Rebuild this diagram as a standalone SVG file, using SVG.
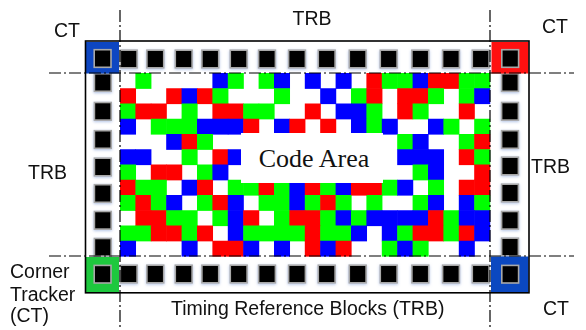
<svg xmlns="http://www.w3.org/2000/svg" xmlns:xlink="http://www.w3.org/1999/xlink" width="586" height="330" viewBox="0 0 586 330">
<defs>
<style>
.lbl{font-family:"Liberation Sans",Arial,sans-serif;font-size:19.5px;fill:#111}
.code{font-family:"Liberation Serif","Times New Roman",serif;font-size:26px;fill:#111}
.cells rect{width:1.04px;height:1.04px}
.r{fill:#ff0000}.g{fill:#00ff00}.b{fill:#0000ff}
.dd{stroke:#000;stroke-width:1.2;fill:none;stroke-dasharray:12 3 2 3}
.tb{fill:#000;stroke:#a8a8a8;stroke-width:1.6}
</style>
<filter id="glow" x="-30%" y="-30%" width="160%" height="160%">
<feDropShadow dx="0" dy="1" stdDeviation="1.4" flood-color="#9fb4e0" flood-opacity="0.8"/>
</filter>
<rect id="blk" class="tb" x="-8.4" y="-8.8" width="16.8" height="17.6"/>
</defs>
<rect width="586" height="330" fill="#fff"/>

<g id="code-area">
<rect x="120" y="73" width="370" height="183" fill="#fff"/>
<g class="cells" transform="translate(120,73) scale(15.4,15.25)">
<g transform="translate(0,0)">
<rect x="1" class="g"/><rect x="6" class="b"/><rect x="7" class="g"/><rect x="9" class="g"/><rect x="10" class="b"/><rect x="12" class="b"/><rect x="14" class="b"/><rect x="16" class="r"/><rect x="17" class="g"/><rect x="18" class="g"/><rect x="19" class="b"/><rect x="20" class="r"/><rect x="21" class="r"/><rect x="22" class="g"/><rect x="23" class="g"/>
</g>
<g transform="translate(0,1)">
<rect x="0" class="r"/><rect x="3" class="r"/><rect x="4" class="b"/><rect x="5" class="r"/><rect x="6" class="g"/><rect x="10" class="g"/><rect x="13" class="b"/><rect x="15" class="g"/><rect x="16" class="r"/><rect x="18" class="r"/><rect x="19" class="r"/><rect x="20" class="g"/><rect x="22" class="g"/><rect x="23" class="b"/>
</g>
<g transform="translate(0,2)">
<rect x="0" class="g"/><rect x="1" class="r"/><rect x="2" class="r"/><rect x="4" class="g"/><rect x="6" class="r"/><rect x="7" class="r"/><rect x="8" class="g"/><rect x="9" class="g"/><rect x="12" class="r"/><rect x="14" class="b"/><rect x="15" class="b"/><rect x="16" class="g"/><rect x="18" class="r"/><rect x="19" class="g"/><rect x="22" class="r"/>
</g>
<g transform="translate(0,3)">
<rect x="0" class="b"/><rect x="2" class="g"/><rect x="3" class="g"/><rect x="4" class="g"/><rect x="5" class="b"/><rect x="6" class="b"/><rect x="7" class="b"/><rect x="8" class="r"/><rect x="10" class="b"/><rect x="11" class="r"/><rect x="13" class="r"/><rect x="15" class="b"/><rect x="16" class="g"/><rect x="17" class="b"/><rect x="20" class="b"/><rect x="21" class="g"/><rect x="23" class="g"/>
</g>
<g transform="translate(0,4)">
<rect x="3" class="b"/><rect x="4" class="r"/><rect x="5" class="g"/><rect x="18" class="g"/><rect x="19" class="b"/><rect x="22" class="g"/><rect x="23" class="r"/>
</g>
<g transform="translate(0,5)">
<rect x="0" class="b"/><rect x="1" class="b"/><rect x="4" class="g"/><rect x="6" class="r"/><rect x="7" class="b"/><rect x="18" class="b"/><rect x="19" class="b"/><rect x="20" class="b"/><rect x="22" class="r"/><rect x="23" class="g"/>
</g>
<g transform="translate(0,6)">
<rect x="0" class="g"/><rect x="2" class="r"/><rect x="3" class="r"/><rect x="5" class="g"/><rect x="6" class="b"/><rect x="19" class="g"/><rect x="20" class="b"/><rect x="23" class="r"/>
</g>
<g transform="translate(0,7)">
<rect x="0" class="r"/><rect x="1" class="g"/><rect x="2" class="g"/><rect x="4" class="b"/><rect x="5" class="r"/><rect x="7" class="g"/><rect x="8" class="g"/><rect x="9" class="r"/><rect x="10" class="g"/><rect x="11" class="b"/><rect x="12" class="r"/><rect x="13" class="g"/><rect x="14" class="b"/><rect x="15" class="r"/><rect x="16" class="r"/><rect x="17" class="g"/><rect x="18" class="b"/><rect x="20" class="g"/><rect x="22" class="r"/><rect x="23" class="r"/>
</g>
<g transform="translate(0,8)">
<rect x="0" class="g"/><rect x="1" class="r"/><rect x="2" class="g"/><rect x="3" class="b"/><rect x="5" class="g"/><rect x="6" class="r"/><rect x="7" class="b"/><rect x="9" class="g"/><rect x="10" class="g"/><rect x="11" class="b"/><rect x="12" class="g"/><rect x="13" class="r"/><rect x="14" class="g"/><rect x="16" class="g"/><rect x="19" class="g"/><rect x="20" class="b"/><rect x="22" class="b"/><rect x="23" class="g"/>
</g>
<g transform="translate(0,9)">
<rect x="1" class="r"/><rect x="2" class="r"/><rect x="3" class="g"/><rect x="4" class="g"/><rect x="6" class="g"/><rect x="7" class="b"/><rect x="8" class="r"/><rect x="10" class="g"/><rect x="11" class="r"/><rect x="12" class="r"/><rect x="13" class="g"/><rect x="14" class="b"/><rect x="15" class="g"/><rect x="16" class="b"/><rect x="17" class="b"/><rect x="18" class="b"/><rect x="19" class="b"/><rect x="20" class="r"/><rect x="21" class="g"/><rect x="22" class="b"/><rect x="23" class="b"/>
</g>
<g transform="translate(0,10)">
<rect x="0" class="g"/><rect x="1" class="g"/><rect x="2" class="r"/><rect x="3" class="r"/><rect x="4" class="g"/><rect x="5" class="r"/><rect x="7" class="b"/><rect x="8" class="g"/><rect x="9" class="g"/><rect x="10" class="g"/><rect x="11" class="g"/><rect x="12" class="r"/><rect x="13" class="g"/><rect x="14" class="g"/><rect x="15" class="b"/><rect x="17" class="b"/><rect x="18" class="g"/><rect x="19" class="r"/><rect x="20" class="r"/><rect x="21" class="g"/><rect x="22" class="r"/><rect x="23" class="b"/>
</g>
<g transform="translate(0,11)">
<rect x="0" class="b"/><rect x="4" class="b"/><rect x="6" class="r"/><rect x="7" class="r"/><rect x="8" class="b"/><rect x="10" class="b"/><rect x="12" class="r"/><rect x="13" class="b"/><rect x="14" class="r"/><rect x="17" class="g"/><rect x="18" class="b"/><rect x="19" class="g"/><rect x="22" class="b"/>
</g>
</g>
<rect x="241" y="133" width="142" height="50" fill="#fff"/>
<text class="code" x="314" y="167" text-anchor="middle">Code Area</text>
</g>

<g id="timing-blocks" filter="url(#glow)">
<use xlink:href="#blk" x="128.7" y="59"/><use xlink:href="#blk" x="155.3" y="59"/><use xlink:href="#blk" x="183.7" y="59"/><use xlink:href="#blk" x="210.3" y="59"/><use xlink:href="#blk" x="238.7" y="59"/><use xlink:href="#blk" x="267" y="59"/><use xlink:href="#blk" x="297" y="59"/><use xlink:href="#blk" x="326.7" y="59"/><use xlink:href="#blk" x="357.7" y="59"/><use xlink:href="#blk" x="388.7" y="59"/><use xlink:href="#blk" x="420.3" y="59"/><use xlink:href="#blk" x="451" y="59"/><use xlink:href="#blk" x="480.7" y="59"/>
<use xlink:href="#blk" x="128.7" y="274"/><use xlink:href="#blk" x="155.3" y="274"/><use xlink:href="#blk" x="183.7" y="274"/><use xlink:href="#blk" x="210.3" y="274"/><use xlink:href="#blk" x="238.7" y="274"/><use xlink:href="#blk" x="267" y="274"/><use xlink:href="#blk" x="297" y="274"/><use xlink:href="#blk" x="326.7" y="274"/><use xlink:href="#blk" x="357.7" y="274"/><use xlink:href="#blk" x="388.7" y="274"/><use xlink:href="#blk" x="420.3" y="274"/><use xlink:href="#blk" x="451" y="274"/><use xlink:href="#blk" x="480.7" y="274"/>
<use xlink:href="#blk" x="102.8" y="82.5"/><use xlink:href="#blk" x="102.8" y="111.3"/><use xlink:href="#blk" x="102.8" y="139.5"/><use xlink:href="#blk" x="102.8" y="167"/><use xlink:href="#blk" x="102.8" y="193.5"/><use xlink:href="#blk" x="102.8" y="220.3"/><use xlink:href="#blk" x="102.8" y="247.3"/>
<use xlink:href="#blk" x="510" y="82.5"/><use xlink:href="#blk" x="510" y="111.3"/><use xlink:href="#blk" x="510" y="139.5"/><use xlink:href="#blk" x="510" y="166"/><use xlink:href="#blk" x="510" y="193"/><use xlink:href="#blk" x="510" y="220.3"/><use xlink:href="#blk" x="510" y="247"/>
</g>

<g id="ct-top-left">
<rect x="86" y="42" width="33" height="31.5" fill="#0d46c2"/>
<use xlink:href="#blk" x="102.6" y="58.5"/>
</g>
<g id="ct-top-right">
<rect x="491.5" y="42" width="37" height="31.5" fill="#ff1010"/>
<use xlink:href="#blk" x="510.2" y="58.5"/>
</g>
<g id="ct-bottom-left">
<rect x="86" y="257" width="33" height="35.5" fill="#1ec83e"/>
<use xlink:href="#blk" x="102.6" y="274.2"/>
</g>
<g id="ct-bottom-right">
<rect x="491" y="256.5" width="37.5" height="36" fill="#0b48c0"/>
<use xlink:href="#blk" x="510.2" y="274.2"/>
</g>

<rect id="frame" x="85.5" y="41" width="443.5" height="251.8" fill="none" stroke="#000" stroke-width="1.6"/>

<g id="connectors">
<line class="dd" x1="120" y1="10" x2="120" y2="330"/>
<line class="dd" x1="490" y1="10" x2="490" y2="330"/>
<line class="dd" x1="49" y1="73" x2="574" y2="73"/>
<line class="dd" x1="49" y1="256" x2="574" y2="256"/>
</g>

<g id="labels">
<text class="lbl" x="54" y="37">CT</text>
<text class="lbl" x="312" y="25" text-anchor="middle">TRB</text>
<text class="lbl" x="542" y="33">CT</text>
<text class="lbl" x="28" y="179">TRB</text>
<text class="lbl" x="531" y="173">TRB</text>
<text class="lbl" x="10" y="278">Corner</text>
<text class="lbl" x="10" y="300.5">Tracker</text>
<text class="lbl" x="10" y="322">(CT)</text>
<text class="lbl" x="543" y="315">CT</text>
<text class="lbl" x="171" y="315">Timing Reference Blocks (TRB)</text>
</g>
</svg>
